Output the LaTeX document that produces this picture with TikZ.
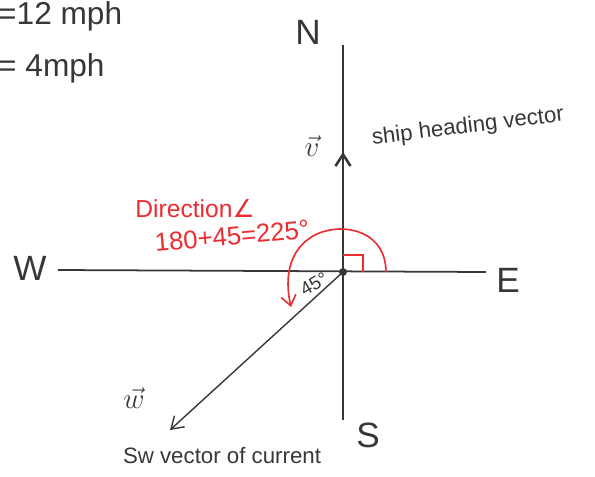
\documentclass[tikz,border=0pt]{standalone}
\usepackage{fontspec}
\setmainfont{Liberation Sans}
\newfontfamily\symfnt{DejaVu Sans}
\usetikzlibrary{arrows.meta,positioning,calc}
\definecolor{penink}{RGB}{55,55,55}
\definecolor{penred}{RGB}{235,45,50}
\tikzset{
  axis/.style={draw=penink, line width=1.5pt},
  vecarr/.style={-{Straight Barb[length=3.5mm,width=4.5mm]}, draw=penink, line width=1.6pt},
  compass/.style={text=penink, font=\fontsize{30}{32}\selectfont, inner sep=0pt},
  note/.style={text=penink, font=\fontsize{19}{21}\selectfont, inner sep=0pt},
  rednote/.style={text=penred, font=\fontsize{21}{23}\selectfont, inner sep=0pt, align=left},
}

\begin{document}
\begin{tikzpicture}[x=0.03cm, y=-0.03cm]
            \useasboundingbox (0,0) rectangle (595,476);
            % axes
            \coordinate (O) at (343,272);
            \coordinate (ntop) at (343,45);
            \coordinate (sbot) at (343,420);
            \coordinate (wend) at (58,270);
            \coordinate (eend) at (486,272);
            \draw[axis] (ntop)--(sbot);
            \draw[axis] (wend)--(eend);
            \node[compass](n) at (308,32){N};
            \node[compass](w) at (30,268){W};
            \node[compass](e) at (508,280){E};
            \node[compass](s) at (368,435){S};
            % speeds
            \node[compass, anchor=west, font=\fontsize{27}{30}\selectfont](vs) at (-2,16){=12 mph};
            \node[compass, anchor=west, font=\fontsize{27}{30}\selectfont](ws) at (-2,68){= 4mph};
            % ship heading
            \coordinate (vtip) at (343,152);
            \draw[vecarr, line width=2.2pt] (O)--(vtip);
            \node[note, font=\fontsize{26}{28}\selectfont](vlab) at (312,146){$\vec{v}$};
            \node[note, rotate=7](vtxt) at (468,127){ship heading vector};
            % current
            \coordinate (wtip) at (170,430);
            \draw[vecarr, line width=1.2pt] (O)--(wtip);
            \node[note, font=\fontsize{26}{28}\selectfont](wlab) at (134,398){$\vec{w}$};
            \node[note](wtxt) at (222,456){Sw vector of current};
            \node[note, font=\fontsize{16}{17}\selectfont, rotate=30](ang) at (314,284){45°};
            \fill[penink] (O) circle[radius=4];
            % direction angle
            \draw[penred, line width=1.3pt] (O) ++(0,-17) -- ++(20,0) -- ++(0,17);
            \draw[penred, line width=1.4pt, -{Straight Barb[length=3mm,width=4.5mm]}]
                (386,272) .. controls (386,244) and (366,229) .. (340,229)
                .. controls (304,230) and (280,258) .. (291,307);
            \node[rednote](dir) at (195,209){Direction{\symfnt∠}};
            \node[rednote, rotate=5, font=\fontsize{22}{24}\selectfont](calc) at (232,236){180+45=225°};
        \end{tikzpicture}
\end{document}
